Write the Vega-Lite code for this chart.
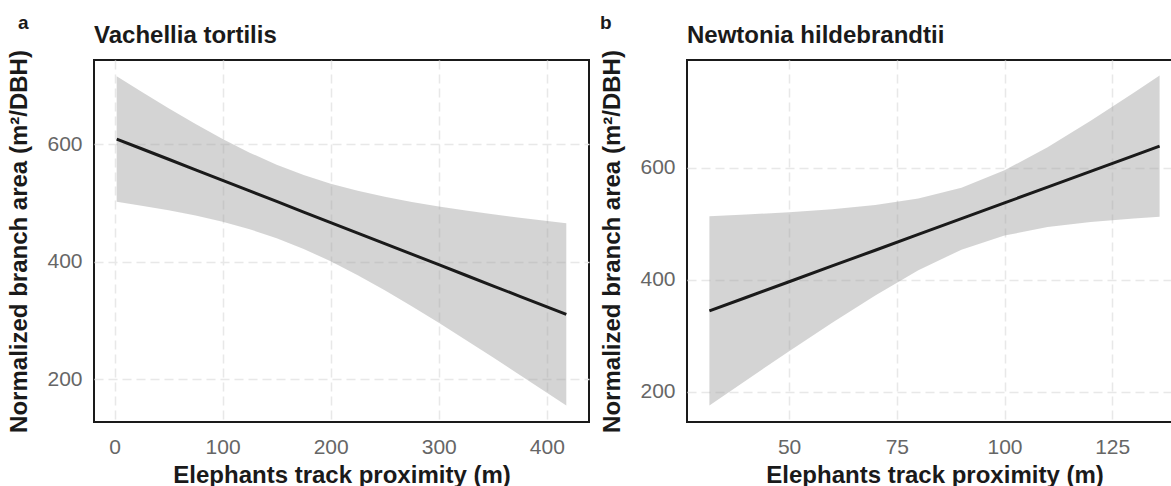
{
  "$schema": "https://vega.github.io/schema/vega-lite/v6.json",
  "padding": {"left": 6, "top": 13, "right": 0, "bottom": 0},
  "background": "white",
  "config": {
    "font": "Liberation Sans",
    "view": {"stroke": "#1a1a1a", "strokeWidth": 2},
    "concat": {"spacing": 9},
    "axis": {
      "grid": true,
      "gridDash": [9, 5],
      "gridColor": "#e8e8e8",
      "gridWidth": 1.5,
      "ticks": false,
      "domain": false,
      "labelFontSize": 21,
      "labelColor": "#666666",
      "labelFont": "Liberation Sans",
      "titleFont": "Liberation Sans",
      "titleFontSize": 24,
      "titleFontWeight": "bold",
      "titleColor": "#1a1a1a"
    },
    "axisX": {"labelPadding": 14, "titlePadding": 6},
    "axisY": {"labelPadding": 12, "titlePadding": 15}
  },
  "datasets": {
    "vachellia": [
      {"x": 2, "lo": 501.6, "hi": 715.4, "fit": 608.5},
      {"x": 25, "lo": 495.1, "hi": 688.9, "fit": 592.0},
      {"x": 50, "lo": 487.3, "hi": 660.9, "fit": 574.1},
      {"x": 75, "lo": 478.3, "hi": 633.9, "fit": 556.1},
      {"x": 100, "lo": 467.8, "hi": 608.6, "fit": 538.2},
      {"x": 125, "lo": 455.1, "hi": 585.3, "fit": 520.2},
      {"x": 150, "lo": 439.8, "hi": 564.8, "fit": 502.3},
      {"x": 175, "lo": 421.5, "hi": 547.1, "fit": 484.3},
      {"x": 200, "lo": 400.4, "hi": 532.4, "fit": 466.4},
      {"x": 225, "lo": 376.7, "hi": 520.3, "fit": 448.5},
      {"x": 250, "lo": 351.1, "hi": 510.1, "fit": 430.6},
      {"x": 275, "lo": 323.8, "hi": 501.4, "fit": 412.6},
      {"x": 300, "lo": 295.7, "hi": 493.7, "fit": 394.7},
      {"x": 325, "lo": 266.6, "hi": 486.8, "fit": 376.7},
      {"x": 350, "lo": 237.1, "hi": 480.5, "fit": 358.8},
      {"x": 375, "lo": 207.1, "hi": 474.5, "fit": 340.8},
      {"x": 418, "lo": 155.0, "hi": 465.0, "fit": 310.0}
    ],
    "newtonia": [
      {"x": 31.5, "lo": 175.6, "hi": 513.6, "fit": 344.6},
      {"x": 40, "lo": 220.3, "hi": 516.7, "fit": 368.5},
      {"x": 50, "lo": 272.4, "hi": 521.0, "fit": 396.7},
      {"x": 60, "lo": 323.4, "hi": 526.4, "fit": 424.9},
      {"x": 70, "lo": 372.3, "hi": 533.7, "fit": 453.0},
      {"x": 80, "lo": 417.1, "hi": 545.3, "fit": 481.2},
      {"x": 90, "lo": 454.0, "hi": 564.8, "fit": 509.4},
      {"x": 100, "lo": 479.3, "hi": 595.9, "fit": 537.6},
      {"x": 110, "lo": 494.3, "hi": 637.1, "fit": 565.7},
      {"x": 120, "lo": 503.6, "hi": 684.2, "fit": 593.9},
      {"x": 130, "lo": 509.9, "hi": 734.3, "fit": 622.1},
      {"x": 136, "lo": 512.9, "hi": 765.1, "fit": 639.0}
    ]
  },
  "hconcat": [
    {
      "title": {"text": "a", "anchor": "start", "frame": "bounds", "fontSize": 19, "fontWeight": "bold", "color": "#1a1a1a", "offset": -10, "dx": 11},
      "vconcat": [
        {
          "title": {"text": "Vachellia tortilis", "anchor": "start", "frame": "group", "fontSize": 24, "fontWeight": "bold", "color": "#1a1a1a", "offset": 2},
          "width": 495,
          "height": 362,
          "data": {"name": "vachellia"},
          "encoding": {
            "x": {"field": "x", "type": "quantitative", "scale": {"domain": [-19, 439], "nice": false, "zero": false},
                  "axis": {"values": [0, 100, 200, 300, 400], "title": "Elephants track proximity (m)"}}
          },
          "layer": [
            {"mark": {"type": "area", "color": "#999999", "opacity": 0.42},
             "encoding": {"y": {"field": "lo", "type": "quantitative", "scale": {"domain": [127, 743], "nice": false, "zero": false},
                                "axis": {"values": [200, 400, 600], "title": "Normalized branch area (m²/DBH)"}},
                          "y2": {"field": "hi"}}},
            {"mark": {"type": "line", "color": "#1a1a1a", "strokeWidth": 3},
             "encoding": {"y": {"field": "fit", "type": "quantitative"}}}
          ]
        }
      ]
    },
    {
      "title": {"text": "b", "anchor": "start", "frame": "bounds", "fontSize": 19, "fontWeight": "bold", "color": "#1a1a1a", "offset": -10, "dx": 0},
      "vconcat": [
        {
          "title": {"text": "Newtonia hildebrandtii", "anchor": "start", "frame": "group", "fontSize": 24, "fontWeight": "bold", "color": "#1a1a1a", "offset": 2},
          "width": 495,
          "height": 362,
          "data": {"name": "newtonia"},
          "encoding": {
            "x": {"field": "x", "type": "quantitative", "scale": {"domain": [26.3, 141.2], "nice": false, "zero": false},
                  "axis": {"values": [50, 75, 100, 125], "title": "Elephants track proximity (m)"}}
          },
          "layer": [
            {"mark": {"type": "area", "color": "#999999", "opacity": 0.42},
             "encoding": {"y": {"field": "lo", "type": "quantitative", "scale": {"domain": [146, 793], "nice": false, "zero": false},
                                "axis": {"values": [200, 400, 600], "title": "Normalized branch area (m²/DBH)"}},
                          "y2": {"field": "hi"}}},
            {"mark": {"type": "line", "color": "#1a1a1a", "strokeWidth": 3},
             "encoding": {"y": {"field": "fit", "type": "quantitative"}}}
          ]
        }
      ]
    }
  ]
}
